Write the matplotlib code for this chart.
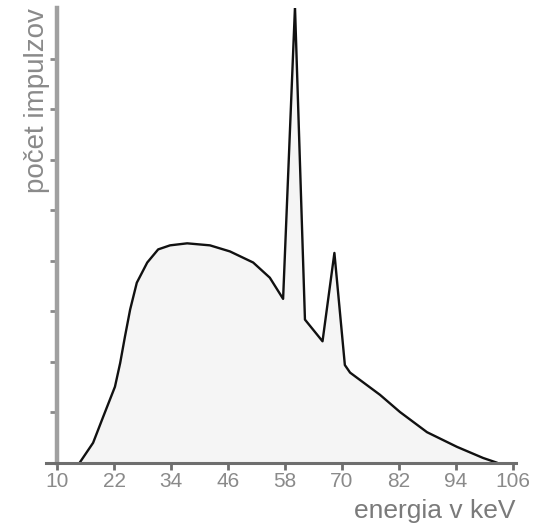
import matplotlib.pyplot as plt

# spectrum (energy in keV, counts in axis units)
energy = [14.8, 17.6, 19.7, 22.2, 23.3, 24.3, 25.4, 26.8, 29.0, 31.3, 33.8, 37.4,
          42.2, 46.4, 51.3, 54.8, 57.6, 60.1, 62.2, 65.9, 68.4, 70.6, 71.7,
          78.0, 82.2, 87.9, 94.2, 99.7, 102.5]
counts = [0.0, 0.39, 0.90, 1.50, 1.97, 2.49, 3.03, 3.56, 3.96, 4.22, 4.30, 4.34,
          4.30, 4.18, 3.96, 3.66, 3.24, 9.02, 2.83, 2.40, 4.15, 1.93, 1.78,
          1.34, 1.00, 0.60, 0.31, 0.09, 0.0]

x_ticks = [10, 22, 34, 46, 58, 70, 82, 94, 106]
y_ticks = [1, 2, 3, 4, 5, 6, 7, 8]

W, H = 536, 526
fig = plt.figure(figsize=(W / 100, H / 100), dpi=100)
ax = fig.add_axes([46 / W, 1 - 462.5 / H, (516 - 46) / W, (462.5 - 8) / H])

ax.fill_between(energy, counts, 0, color="#f5f5f5", zorder=1)
ax.plot(energy, counts, color="#111111", lw=1.7, zorder=2, solid_joinstyle="round")

ax.set_xlim(10 - 11 / 4.75, 106 + 3 / 4.75)
ax.set_ylim(0, 9.0)

for s in ("top", "right"):
    ax.spines[s].set_visible(False)
ax.spines["left"].set_position(("data", 10))
ax.spines["left"].set_color("#a0a0a0")
ax.spines["left"].set_linewidth(3.2)
ax.spines["bottom"].set_color("#6e6e6e")
ax.spines["bottom"].set_linewidth(2.2)

ax.set_xticks(x_ticks)
ax.set_xticklabels([str(t) for t in x_ticks], family="Liberation Sans",
                   fontsize=15, color="#8a8a8a")
ax.tick_params(axis="x", length=5, width=2, color="#6e6e6e", pad=2)
ax.set_yticks(y_ticks)
ax.set_yticklabels([])
ax.tick_params(axis="y", length=5, width=2, color="#8a8a8a")

fig.text(37 / W, 1 - 8 / H, "počet impulzov", rotation=90, ha="center", va="top",
         family="Liberation Sans", fontsize=20, color="#8a8a8a")
fig.text(515 / W, 1 - 518 / H, "energia v keV", ha="right", va="baseline",
         family="Liberation Sans", fontsize=19, color="#7a7a7a")

fig.savefig("out.png", dpi=100)
